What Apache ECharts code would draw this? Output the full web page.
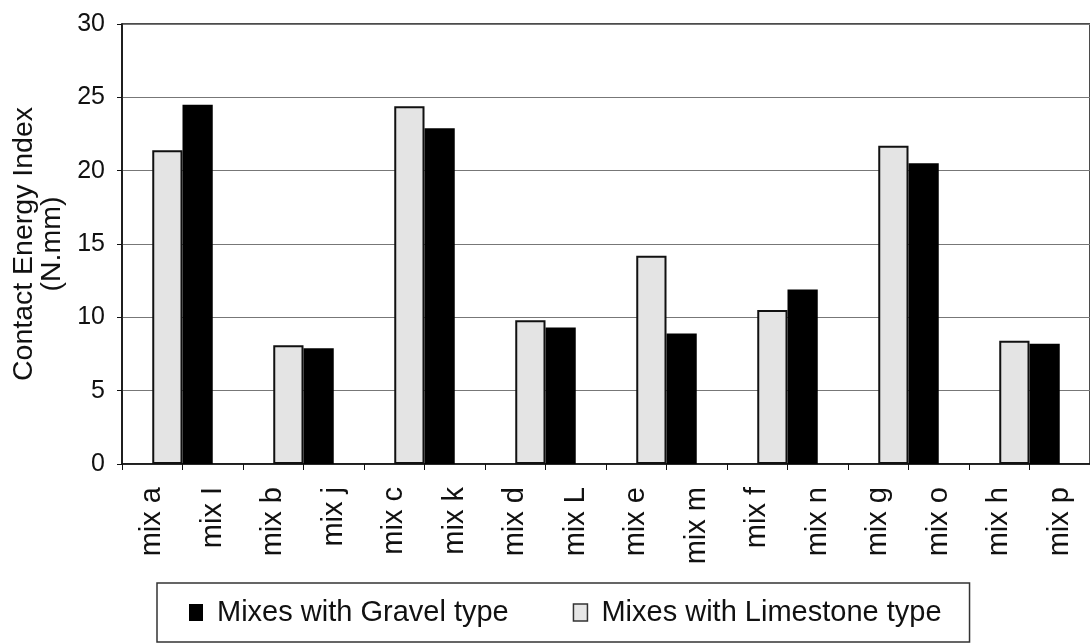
<!DOCTYPE html>
<html>
<head>
<meta charset="utf-8">
<script src="https://cdn.jsdelivr.net/npm/echarts@6/dist/echarts.min.js"></script>
<style>
html,body{margin:0;padding:0;background:#fff;}
#chart{width:1090px;height:643px;}
</style>
</head>
<body>
<div id="chart"></div>
<script>
const categories = ['mix a','mix I','mix b','mix j','mix c','mix k','mix d','mix L','mix e','mix m','mix f','mix n','mix g','mix o','mix h','mix p'];
const limestone = [21.4, null, 8.1, null, 24.4, null, 9.8, null, 14.2, null, 10.5, null, 21.7, null, 8.4, null];
const gravel    = [null, 24.5, null, 7.9, null, 22.9, null, 9.3, null, 8.9, null, 11.9, null, 20.5, null, 8.2];
const yTicks = [0, 5, 10, 15, 20, 25, 30];
const seriesNames = ['Mixes with Gravel type', 'Mixes with Limestone type'];

const FONT = '"Liberation Sans", Arial, sans-serif';
const chart = echarts.init(document.getElementById('chart'), null, {renderer: 'canvas'});
chart.setOption({
  animation: false,
  backgroundColor: '#fff',
  grid: {
    left: 122, top: 24, width: 981, height: 440,
    show: true, borderColor: '#111', borderWidth: 1.5, backgroundColor: 'transparent'
  },
  legend: {
    left: 157, top: 583,
    padding: [15, 28, 15, 32],
    borderColor: '#333', borderWidth: 1.5,
    itemWidth: 14, itemHeight: 17, itemGap: 64,
    icon: 'rect',
    textStyle: {fontFamily: FONT, fontSize: 29, color: '#111', padding: [2, 0, 0, 9]},
    data: [
      {name: seriesNames[0], itemStyle: {color: '#000'}},
      {name: seriesNames[1], itemStyle: {color: '#e6e6e6', borderColor: '#333', borderWidth: 1.5}}
    ]
  },
  xAxis: {
    type: 'category',
    data: categories,
    boundaryGap: true,
    axisLine: {lineStyle: {color: '#111', width: 1.5}},
    axisTick: {show: true, length: 6, lineStyle: {color: '#111', width: 1}},
    axisLabel: {
      rotate: 90, interval: 0, margin: 23,
      fontFamily: FONT, fontSize: 29, color: '#111'
    },
    splitLine: {show: false}
  },
  yAxis: {
    type: 'value',
    min: yTicks[0], max: yTicks[yTicks.length - 1], interval: 5,
    name: 'Contact Energy Index\n(N.mm)',
    nameLocation: 'middle',
    nameRotate: 90,
    nameGap: 55,
    nameTextStyle: {fontFamily: FONT, fontSize: 28.5, color: '#111', lineHeight: 28},
    axisLine: {show: true, lineStyle: {color: '#111', width: 1.5}},
    axisTick: {show: true, length: 5, lineStyle: {color: '#111'}},
    axisLabel: {fontFamily: FONT, fontSize: 25, color: '#111', margin: 17},
    splitLine: {show: true, lineStyle: {color: '#777', width: 1.2}}
  },
  series: [
    {
      name: seriesNames[0], type: 'bar', data: gravel,
      barGap: '0%', barCategoryGap: '0%',
      itemStyle: {color: '#000'}
    },
    {
      name: seriesNames[1], type: 'bar', data: limestone,
      barGap: '0%', barCategoryGap: '0%',
      itemStyle: {color: '#e4e4e4', borderColor: '#111', borderWidth: 2}
    }
  ]
});
</script>
</body>
</html>
